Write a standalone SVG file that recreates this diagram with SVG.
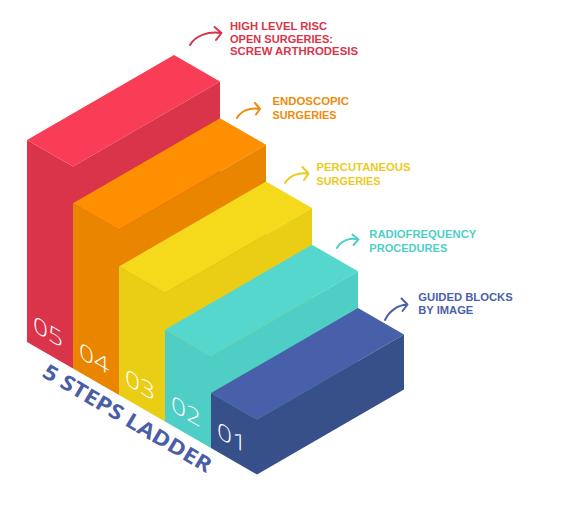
<svg xmlns="http://www.w3.org/2000/svg" width="575" height="516" viewBox="0 0 575 516">
<style>
.lbl{font-family:"Liberation Sans","Open Sans",sans-serif;font-weight:700;font-size:10.8px}
.num{font-family:"Open Sans","Liberation Sans",sans-serif;font-weight:300;font-size:22.5px;fill:#ffffff}
.arr{fill:none;stroke-width:2;stroke-linecap:round;stroke-linejoin:round}
.title{font-family:"Open Sans","Liberation Sans",sans-serif;font-weight:700;font-size:21px;fill:#4a5ea8}
</style>
<rect width="575" height="516" fill="#ffffff"/>
<g id="step5">
<polygon points="27,342 73,368.5 73,166.5 27,140" fill="#da344a"/>
<polygon points="27,140 174,55 220,81.5 73,166.5" fill="#f93d56"/>
<polygon points="73,166.5 220,81.5 220,283.5 73,368.5" fill="#da344a"/>
<text class="num" transform="translate(33,331) skewY(30)" textLength="30" lengthAdjust="spacingAndGlyphs">05</text>
</g>
<g id="step4">
<polygon points="73,368.5 119,395 119,229.75 73,203.25" fill="#ea8500"/>
<polygon points="73,203.25 220,118.25 266,144.75 119,229.75" fill="#fd8f00"/>
<polygon points="119,229.75 266,144.75 266,310 119,395" fill="#ea8500"/>
<text class="num" transform="translate(79,357.5) skewY(30)" textLength="30" lengthAdjust="spacingAndGlyphs">04</text>
</g>
<g id="step3">
<polygon points="119,395 165,421.5 165,293 119,266.5" fill="#eacd15"/>
<polygon points="119,266.5 266,181.5 312,208 165,293" fill="#f5d91b"/>
<polygon points="165,293 312,208 312,336.5 165,421.5" fill="#eacd15"/>
<text class="num" transform="translate(125,384) skewY(30)" textLength="30" lengthAdjust="spacingAndGlyphs">03</text>
</g>
<g id="step2">
<polygon points="165,421.5 211,448 211,356.25 165,329.75" fill="#4ecec5"/>
<polygon points="165,329.75 312,244.75 358,271.25 211,356.25" fill="#55d7cd"/>
<polygon points="211,356.25 358,271.25 358,362.75 211,448" fill="#4ecec5"/>
<text class="num" transform="translate(171,410.5) skewY(30)" textLength="30" lengthAdjust="spacingAndGlyphs">02</text>
</g>
<g id="step1">
<polygon points="211,448 257,474.5 257,419.5 211,393" fill="#385089"/>
<polygon points="211,393 358,308 404,334.5 257,419.5" fill="#4860aa"/>
<polygon points="257,419.5 404,334.5 404,389.5 257,474.5" fill="#385089"/>
<text class="num" transform="translate(217,437) skewY(30)" textLength="30" lengthAdjust="spacingAndGlyphs">01</text>
</g>
<g id="title">
<text class="title" transform="translate(41,376) rotate(30.5)" textLength="192" lengthAdjust="spacingAndGlyphs">5 STEPS LADDER</text>
</g>
<g id="connectors">
<path class="arr" stroke="#d9344a" d="M190,45 C195,36 208,31 221,33 M214.5,27 L221.5,33 L216,40"/>
<path class="arr" stroke="#ee8a0c" d="M237,118 C241,111 250,107 259.5,109 M255,103 L260,109 L256,114.5"/>
<path class="arr" stroke="#ebcb1f" d="M285,183 C289,176 298,172 308,173.5 M302.5,167 L308.5,173.5 L304,180"/>
<path class="arr" stroke="#4fcfc5" d="M337,248 C341,241 350,237 358,239.5 M352.5,234.5 L358.5,239.5 L353.5,245"/>
<path class="arr" stroke="#4b5faa" d="M385,320 C389,311 398,305 407,304.5 M401.5,298.5 L407.5,304.5 L402.5,311"/>
</g>
<g id="label5" class="lbl" fill="#d9344a">
<text x="230" y="30" textLength="97" lengthAdjust="spacingAndGlyphs">HIGH LEVEL RISC</text>
<text x="230" y="42.5" textLength="103" lengthAdjust="spacingAndGlyphs">OPEN SURGERIES:</text>
<text x="230" y="55" textLength="128" lengthAdjust="spacingAndGlyphs">SCREW ARTHRODESIS</text>
</g>
<g id="label4" class="lbl" fill="#ee8a0c">
<text x="272.5" y="105" textLength="76.5" lengthAdjust="spacingAndGlyphs">ENDOSCOPIC</text>
<text x="272.5" y="119" textLength="64" lengthAdjust="spacingAndGlyphs">SURGERIES</text>
</g>
<g id="label3" class="lbl" fill="#ebcb1f">
<text x="316.5" y="170.7" textLength="94" lengthAdjust="spacingAndGlyphs">PERCUTANEOUS</text>
<text x="316.5" y="184.7" textLength="64" lengthAdjust="spacingAndGlyphs">SURGERIES</text>
</g>
<g id="label2" class="lbl" fill="#4fcfc5">
<text x="369.3" y="238.3" textLength="107" lengthAdjust="spacingAndGlyphs">RADIOFREQUENCY</text>
<text x="369.3" y="251.7" textLength="78" lengthAdjust="spacingAndGlyphs">PROCEDURES</text>
</g>
<g id="label1" class="lbl" fill="#4b5faa">
<text x="418.3" y="301" textLength="94.4" lengthAdjust="spacingAndGlyphs">GUIDED BLOCKS</text>
<text x="418.3" y="313.7" textLength="55" lengthAdjust="spacingAndGlyphs">BY IMAGE</text>
</g>
</svg>
